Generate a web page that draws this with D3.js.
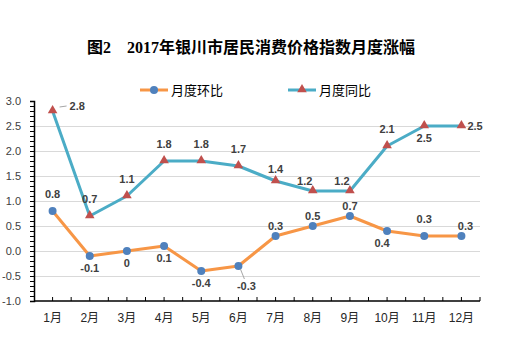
<!DOCTYPE html>
<html><head><meta charset="utf-8">
<script src="https://cdn.jsdelivr.net/npm/d3@7"></script>
<style>
body{margin:0;background:#fff;}
svg{display:block;}
</style></head>
<body><svg id="c" width="511" height="338"></svg>
<script>
const months = ["1月","2月","3月","4月","5月","6月","7月","8月","9月","10月","11月","12月"];
const huanbi = [0.8,-0.1,0,0.1,-0.4,-0.3,0.3,0.5,0.7,0.4,0.3,0.3];
const tongbi = [2.8,0.7,1.1,1.8,1.8,1.7,1.4,1.2,1.2,2.1,2.5,2.5];
const huanbiLabels = ["0.8","-0.1","0","0.1","-0.4","-0.3","0.3","0.5","0.7","0.4","0.3","0.3"];
const tongbiLabels = ["2.8","0.7","1.1","1.8","1.8","1.7","1.4","1.2","1.2","2.1","2.5","2.5"];
const yTicks = [-1.0,-0.5,0.0,0.5,1.0,1.5,2.0,2.5,3.0];
const seriesNames = ["月度环比","月度同比"];
const titleText = "图2　2017年银川市居民消费价格指数月度涨幅";
// label placement keywords (style)
const huanbiPos = ["t","b","b","b","b","br","tn","tn","tn","bl","t","tnr"];
const tongbiPos = ["rh","t","t","t","t","t","tm","tnl","tnl","t","b","r"];

const svg = d3.select("#c");
const L=34, R=480, T=101, B=301;
const x = d3.scaleBand().domain(months).range([L,R]);
const y = d3.scaleLinear().domain([-1,3]).range([B,T]);
const cx = m => x(m)+x.bandwidth()/2;

// title
svg.append("text").attr("x",251).attr("y",53).attr("text-anchor","middle")
 .attr("font-family","'Liberation Serif','Noto Sans CJK SC'").attr("font-weight","bold")
 .attr("font-size",16).attr("fill","#000").text(titleText);

// gridlines
svg.append("g").selectAll("line").data(yTicks.filter(v=>v>-1&&v<3)).join("line")
 .attr("x1",L).attr("x2",R).attr("y1",d=>y(d)).attr("y2",d=>y(d))
 .attr("stroke","#d9d9d9").attr("stroke-width",1).attr("shape-rendering","crispEdges");

// y axis
const yAxis = svg.append("g").attr("transform",`translate(${L},0)`)
 .call(d3.axisLeft(y).tickValues(d3.range(-10,31).map(v=>v/10)).tickSize(4).tickFormat(""));
yAxis.select(".domain").attr("stroke","#000").attr("stroke-width",1.5);
yAxis.selectAll(".tick line").attr("stroke","#000");
svg.append("g").selectAll("text").data(yTicks).join("text")
 .attr("x",21).attr("y",d=>y(d)+4).attr("text-anchor","end")
 .attr("font-family","'Liberation Sans',sans-serif").attr("font-size",11).attr("fill","#404040")
 .text(d=>d.toFixed(1));

// x axis
const halfTicks = [];
months.forEach(m=>{halfTicks.push(x(m)); halfTicks.push(cx(m));});
halfTicks.push(R);
svg.append("line").attr("x1",L).attr("x2",R).attr("y1",B).attr("y2",B).attr("stroke","#000").attr("stroke-width",1.5);
svg.append("g").selectAll("line").data(halfTicks.slice(1)).join("line")
 .attr("x1",d=>d).attr("x2",d=>d).attr("y1",B).attr("y2",B-4).attr("stroke","#000").attr("stroke-width",1);
svg.append("g").selectAll("text").data(months).join("text")
 .attr("x",d=>cx(d)).attr("y",322).attr("text-anchor","middle")
 .attr("font-family","'Liberation Sans','Noto Sans CJK SC'").attr("font-size",12).attr("fill","#262626")
 .text(d=>d);

const line = d3.line().x((d,i)=>cx(months[i])).y(d=>y(d));
const orange="#F79646", blue="#4BACC6", dotc="#4F81BD", tric="#C0504D";
svg.append("path").datum(huanbi).attr("d",line).attr("fill","none").attr("stroke",orange).attr("stroke-width",3).attr("stroke-linejoin","round");
svg.append("path").datum(tongbi).attr("d",line).attr("fill","none").attr("stroke",blue).attr("stroke-width",3).attr("stroke-linejoin","round");

svg.append("g").selectAll("circle").data(huanbi).join("circle")
 .attr("cx",(d,i)=>cx(months[i])).attr("cy",d=>y(d)).attr("r",4).attr("fill",dotc);
const tri = d3.symbol().type(d3.symbolTriangle).size(40);
svg.append("g").selectAll("path").data(tongbi).join("path")
 .attr("d",tri).attr("transform",(d,i)=>`translate(${cx(months[i])},${y(d)-0.5})`).attr("fill",tric);

function place(p, px, py){
  switch(p){
    case "t": return [px, py-13, "middle"];
    case "tm": return [px, py-8, "middle"];
    case "tn": return [px, py-6, "middle"];
    case "tnr": return [px+4, py-6, "middle"];
    case "tnl": return [px-8, py-6, "middle"];
    case "b": return [px, py+16, "middle"];
    case "bl": return [px-5, py+16, "middle"];
    case "br": return [px+8, py+24, "middle"];
    case "r": return [px+6, py+4, "start"];
    case "rh": return [px+17, py-1, "start"];
  }
}
function labels(vals, texts, pos){
  const g = svg.append("g");
  vals.forEach((v,i)=>{
    const px=cx(months[i]), py=y(v);
    const [lx,ly,anc]=place(pos[i],px,py);
    g.append("text").attr("x",lx).attr("y",ly).attr("text-anchor",anc)
     .attr("font-family","'Liberation Sans',sans-serif").attr("font-weight","bold")
     .attr("font-size",11).attr("fill","#404040").text(texts[i]);
  });
}
labels(huanbi, huanbiLabels, huanbiPos);
labels(tongbi, tongbiLabels, tongbiPos);
// leader lines
svg.append("line").attr("x1",cx(months[0])+7).attr("y1",y(tongbi[0])-4).attr("x2",cx(months[0])+14).attr("y2",y(tongbi[0])-5).attr("stroke","#a6a6a6");
svg.append("line").attr("x1",cx(months[5])+2).attr("y1",y(huanbi[5])+3).attr("x2",cx(months[5])+6).attr("y2",y(huanbi[5])+13).attr("stroke","#a6a6a6");

// legend
const lg = svg.append("g");
const leg = [{x:140,c:orange,m:"c"},{x:288,c:blue,m:"t"}];
leg.forEach((l,i)=>{
  lg.append("line").attr("x1",l.x).attr("x2",l.x+28).attr("y1",90).attr("y2",90).attr("stroke",l.c).attr("stroke-width",3);
  if(l.m==="c") lg.append("circle").attr("cx",l.x+14).attr("cy",90).attr("r",4).attr("fill",dotc);
  else lg.append("path").attr("d",tri).attr("transform",`translate(${l.x+14},89.5)`).attr("fill",tric);
  lg.append("text").attr("x",l.x+31).attr("y",95).attr("font-family","'Noto Sans CJK SC'").attr("font-size",13).attr("fill","#000").text(seriesNames[i]);
});
</script></body></html>
